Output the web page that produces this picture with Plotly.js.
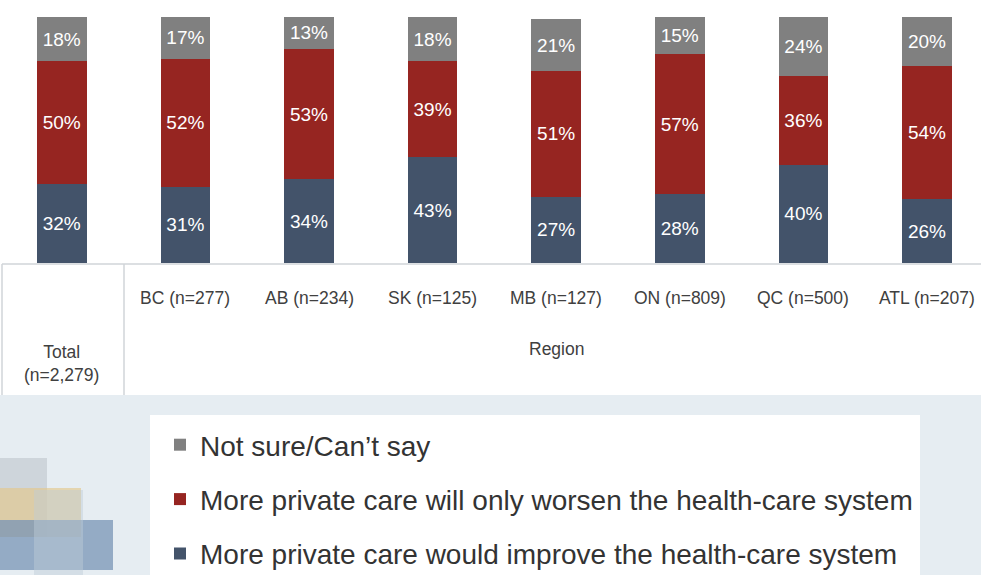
<!DOCTYPE html>
<html>
<head>
<meta charset="utf-8">
<script src="https://cdn.plot.ly/plotly-3.0.1.min.js"></script>
<style>html,body{margin:0;padding:0;background:#fff;}#chart{width:981px;height:575px;}</style>
</head>
<body>
<div id="chart"></div>
<script>
// ---- data ----
const categories = ["Total", "BC", "AB", "SK", "MB", "ON", "QC", "ATL"];
const tickLabels = ["Total<br>(n=2,279)", "BC (n=277)", "AB (n=234)", "SK (n=125)", "MB (n=127)", "ON (n=809)", "QC (n=500)", "ATL (n=207)"];
const groupLabel = "Region";
const improve = [32, 31, 34, 43, 27, 28, 40, 26];
const worsen  = [50, 52, 53, 39, 51, 57, 36, 54];
const notSure = [18, 17, 13, 18, 21, 15, 24, 20];
const seriesNames = [
  "More private care would improve the health-care system",
  "More private care will only worsen the health-care system",
  "Not sure/Can\u2019t say"
];

// ---- layout helpers ----
const W = 981, H = 575, TOP = 17, BOTTOM = 263;
const px = x => x / W;
const py = y => (BOTTOM - y) / (BOTTOM - TOP);
const FONT = "'Liberation Sans', Arial, sans-serif";

const colors = ["#43536a", "#962521", "#808080"];
const values = [improve, worsen, notSure];

const traces = values.map((v, i) => ({
  type: "bar",
  name: seriesNames[i],
  x: categories,
  y: v,
  width: 0.4,
  marker: {color: colors[i], line: {width: 0}},
  text: v.map(d => d + "%"),
  textposition: "inside",
  insidetextanchor: "middle",
  textangle: 0,
  constraintext: "none",
  textfont: {family: FONT, size: 19, color: "#ffffff"},
  legendgroup: "g" + i,
  legendrank: 3 - i,
  hoverinfo: "none"
}));

const annotations = [];
categories.forEach((c, i) => {
  annotations.push({x: c, xref: "x", y: py(i === 0 ? 363 : 298), yref: "paper", text: tickLabels[i],
    showarrow: false, xanchor: "center", yanchor: "middle",
    font: {family: FONT, size: 17.5, color: "#404040"}});
});
annotations.push({x: categories[4], xref: "x", y: py(349), yref: "paper", text: groupLabel,
  showarrow: false, xanchor: "center", yanchor: "middle",
  font: {family: FONT, size: 17.5, color: "#404040"}});

const shapes = [
  // light background under table
  {type: "rect", xref: "paper", yref: "paper", x0: px(0), x1: px(981), y0: py(395), y1: py(575),
   fillcolor: "#e6edf2", line: {width: 0}, layer: "below"},
  // decorative squares
  {type: "rect", xref: "paper", yref: "paper", x0: px(0), x1: px(47), y0: py(458), y1: py(537),
   fillcolor: "rgba(200,206,212,0.8)", line: {width: 0}, layer: "below"},
  {type: "rect", xref: "paper", yref: "paper", x0: px(0), x1: px(81), y0: py(488), y1: py(537),
   fillcolor: "rgba(228,200,140,0.65)", line: {width: 0}, layer: "below"},
  {type: "rect", xref: "paper", yref: "paper", x0: px(0), x1: px(113), y0: py(520), y1: py(570),
   fillcolor: "rgba(120,148,182,0.75)", line: {width: 0}, layer: "below"},
  {type: "rect", xref: "paper", yref: "paper", x0: px(34), x1: px(83), y0: py(490), y1: py(575),
   fillcolor: "rgba(190,205,215,0.45)", line: {width: 0}, layer: "below"},
  // white legend box
  {type: "rect", xref: "paper", yref: "paper", x0: px(150), x1: px(920), y0: py(415), y1: py(580),
   fillcolor: "#ffffff", line: {width: 0}, layer: "below"},
  // table lines
  {type: "line", xref: "paper", yref: "paper", x0: px(2), x1: px(981), y0: py(264), y1: py(264),
   line: {color: "#d0d4d8", width: 1.5}},
  {type: "line", xref: "paper", yref: "paper", x0: px(124), x1: px(124), y0: py(264), y1: py(395),
   line: {color: "#d0d4d8", width: 1.5}},
  {type: "line", xref: "paper", yref: "paper", x0: px(2), x1: px(2), y0: py(264), y1: py(395),
   line: {color: "#d0d4d8", width: 1.5}}
];

const layout = {
  width: W, height: H,
  margin: {l: 0, r: 0, t: TOP, b: H - BOTTOM, pad: 0, autoexpand: false},
  paper_bgcolor: "#ffffff",
  plot_bgcolor: "rgba(0,0,0,0)",
  barmode: "stack",
  showlegend: true,
  legend: {
    x: px(160), xanchor: "left", y: py(420), yanchor: "top",
    traceorder: "grouped", tracegroupgap: 15,
    bgcolor: "rgba(0,0,0,0)",
    font: {family: FONT, size: 28, color: "#333333"}
  },
  xaxis: {type: "category", range: [-0.5, 7.437], showticklabels: false, showgrid: false,
          zeroline: false, showline: false, ticks: "", fixedrange: true},
  yaxis: {range: [0, 100], showticklabels: false, showgrid: false, zeroline: false,
          showline: false, ticks: "", fixedrange: true},
  shapes: shapes,
  annotations: annotations
};

Plotly.newPlot("chart", traces, layout, {displayModeBar: false, staticPlot: true});
</script>
</body>
</html>
